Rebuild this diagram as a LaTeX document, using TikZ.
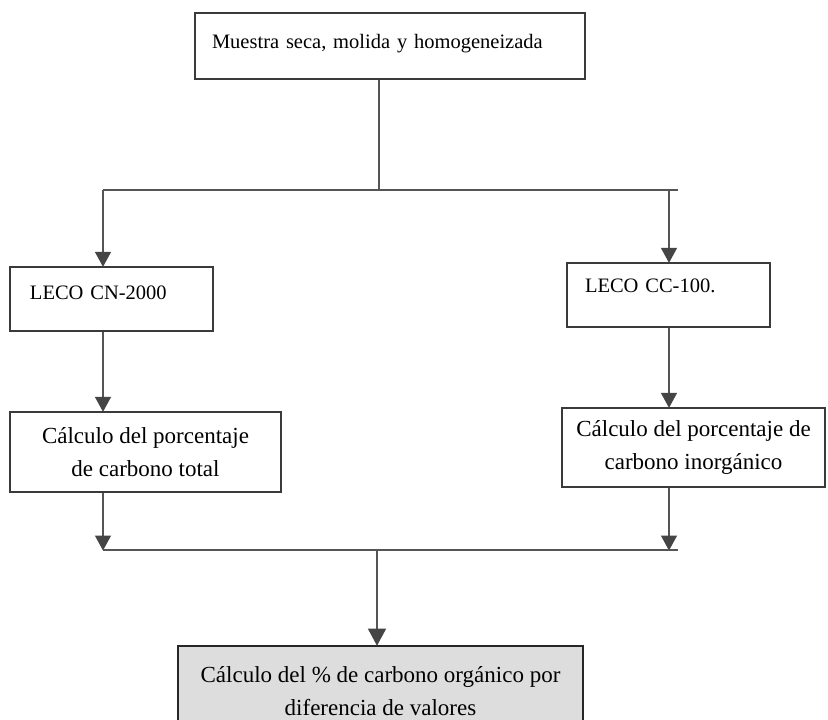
\documentclass[tikz,border=0pt]{standalone}
\usepackage{fontspec}
\setmainfont{Liberation Serif}
\usetikzlibrary{arrows.meta}
\definecolor{linegray}{HTML}{555555}
\definecolor{boxgray}{HTML}{3A3A3A}
\definecolor{headgray}{HTML}{454545}
\definecolor{fillgray}{HTML}{DDDDDD}
\tikzset{
  boxbase/.style={draw=boxgray, line width=1.3pt, inner ysep=0pt, text=black},
  leftbox/.style={boxbase, align=left, font=\fontsize{20.5}{25}\selectfont},
  calcbox/.style={boxbase, align=center, font=\fontsize{23}{33}\selectfont},
  conn/.style={draw=linegray, line width=1.3pt},
  arr/.style={conn, -{Triangle[width=16pt,length=15pt,color=headgray]}, shorten >=-0.5pt},
  bigarr/.style={conn, -{Triangle[width=18pt,length=17pt,color=headgray]}, shorten >=-0.5pt}
}
\begin{document}
\begin{tikzpicture}[x=1pt,y=-1pt]
\clip (0,0) rectangle (828,720);
\useasboundingbox (0,0) rectangle (828,720);
\fill[white] (0,0) rectangle (828,720);

% boxes
\node[leftbox, inner xsep=17pt, text width=356pt, minimum height=66pt,
      text height=12pt, text depth=8pt] (top) at (390,46)
      {Muestra seca, molida y homogeneizada};
\node[leftbox, inner xsep=20pt, text width=163pt, minimum height=64pt,
      text height=10pt, text depth=10pt] (lecoL) at (111.5,299)
      {LECO CN-2000};
\node[leftbox, inner xsep=18pt, text width=167pt, minimum height=64pt,
      text height=7pt, text depth=13pt] (lecoR) at (668.5,295)
      {LECO CC-100.};
\node[calcbox, minimum width=271pt, minimum height=80pt] (calcL) at (145.5,452)
      {Cálculo del porcentaje\\de carbono total};
\node[calcbox, minimum width=263pt, minimum height=79pt] (calcR) at (693.5,447.5)
      {Cálculo del porcentaje de\\carbono inorgánico};
\node[calcbox, fill=fillgray, draw=black!85, line width=1.6pt,
      minimum width=405pt, minimum height=90pt] (res) at (380.5,691)
      {Cálculo del \% de carbono orgánico por\\diferencia de valores};

% junction coordinates
\coordinate (splitC) at (379,190);
\coordinate (splitL) at (103,190);
\coordinate (splitR) at (669,190);
\coordinate (splitEnd) at (678,190);
\coordinate (joinL) at (103,550);
\coordinate (joinR) at (669,550);
\coordinate (joinC) at (377,550);
\coordinate (joinEnd) at (678,550);

% connectors
\draw[conn] (splitC |- top.south) -- (splitC);
\draw[conn] (splitL) -- (splitEnd);
\draw[arr] (splitL) -- (splitL |- lecoL.north);
\draw[arr] (splitR) -- (splitR |- lecoR.north);
\draw[arr] (splitL |- lecoL.south) -- (splitL |- calcL.north);
\draw[arr] (splitR |- lecoR.south) -- (splitR |- calcR.north);
\draw[arr] (joinL |- calcL.south) -- (joinL);
\draw[arr] (joinR |- calcR.south) -- (joinR);
\draw[conn] (joinL) -- (joinEnd);
\draw[bigarr] (joinC) -- (joinC |- res.north);
\end{tikzpicture}
\end{document}
